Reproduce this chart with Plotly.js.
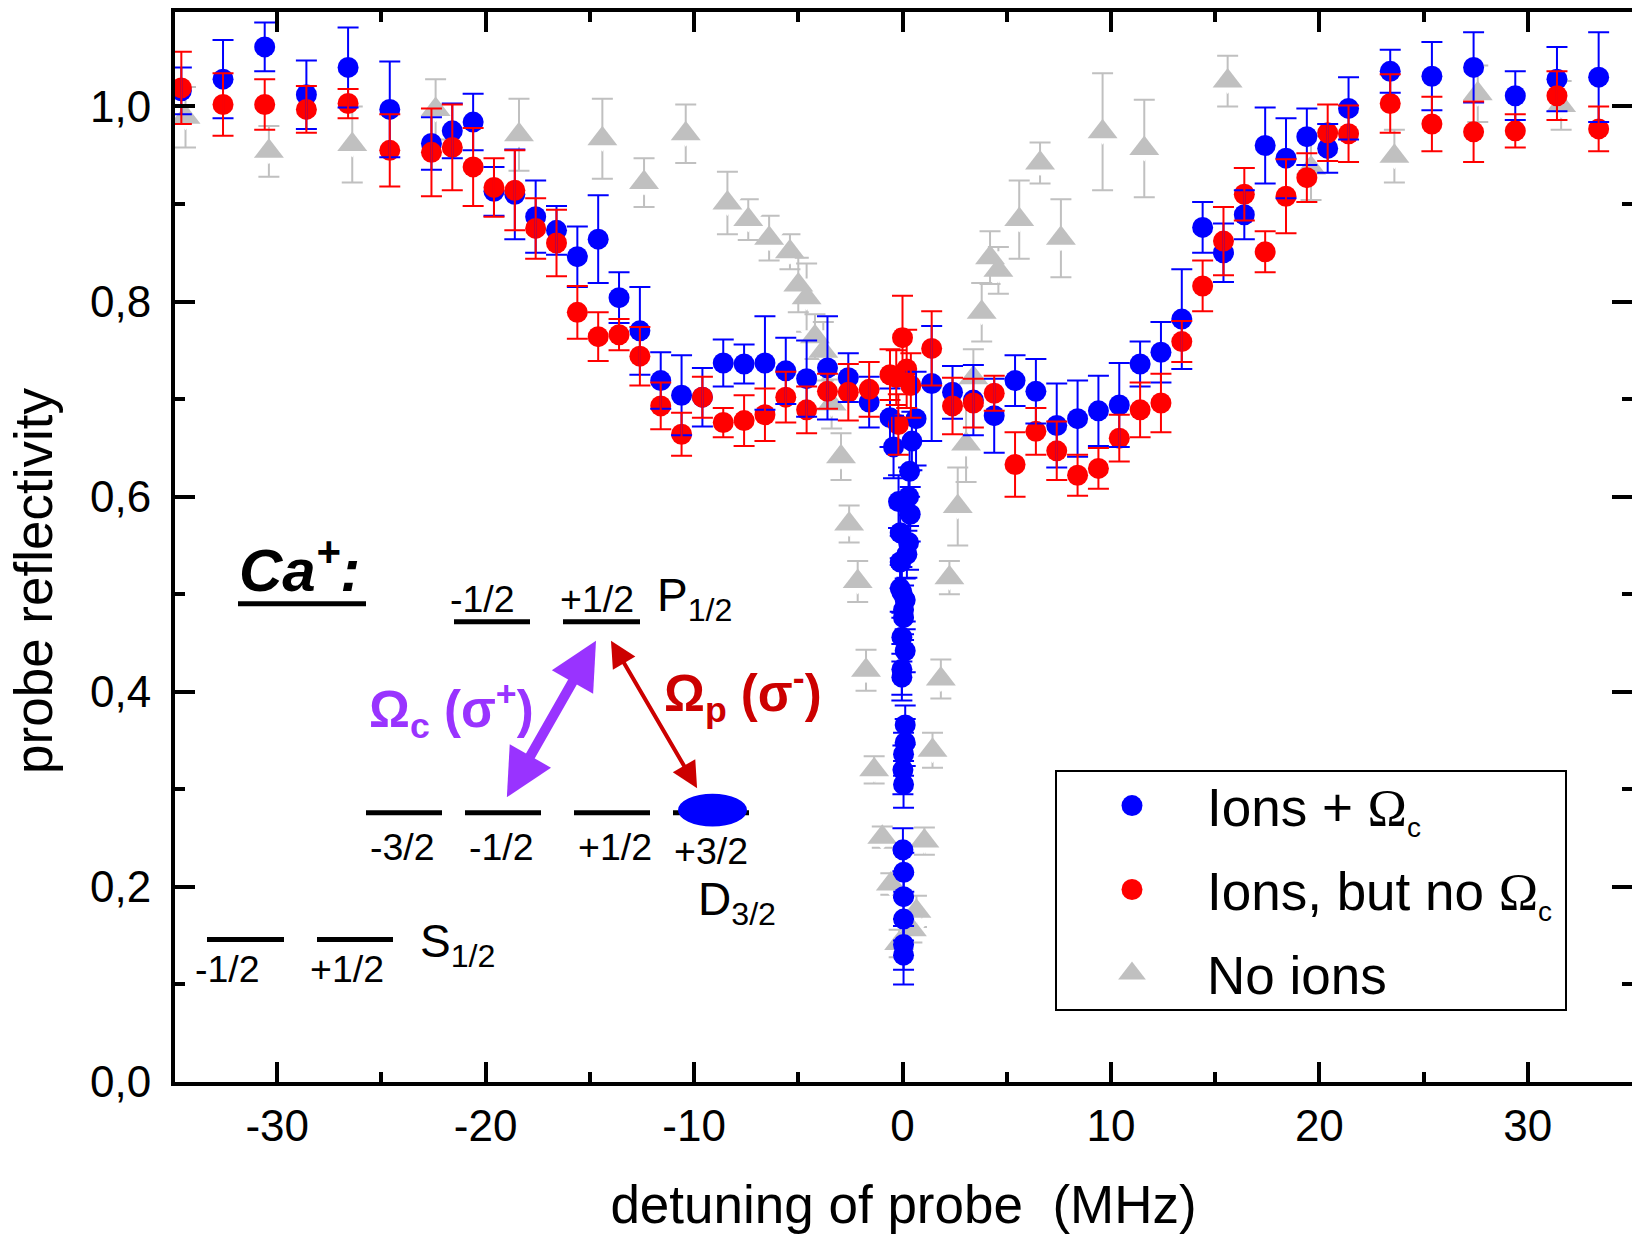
<!DOCTYPE html>
<html><head><meta charset="utf-8">
<script src="https://cdn.plot.ly/plotly-3.0.1.min.js"></script>
<style>html,body{margin:0;padding:0;background:#fff}#chart{width:1632px;height:1234px}</style>
</head><body><div id="chart"></div>
<script>
const blueX=[-34.6,-32.6,-30.6,-28.6,-26.6,-24.6,-22.6,-21.6,-20.6,-19.6,-18.6,-17.6,-16.6,-15.6,-14.6,-13.6,-12.6,-11.6,-10.6,-9.6,-8.6,-7.6,-6.6,-5.6,-4.6,-3.6,-2.6,-1.6,-0.6,0.65,-0.43,0.45,0.34,0.29,-0.19,0.37,-0.11,0.29,0.21,-0.11,-0.11,-0.03,0.13,0.05,0.05,-0.03,0.13,-0.03,-0.03,0.13,0.13,0.05,0.02,0.05,0.02,0.06,0.05,0.05,0.05,0.05,1.4,2.4,3.4,4.4,5.4,6.4,7.4,8.4,9.4,10.4,11.4,12.4,13.4,14.4,15.4,16.4,17.4,18.4,19.4,20.4,21.4,23.4,25.4,27.4,29.4,31.4,33.4];
const blueY=[1.016,1.028,1.061,1.012,1.040,0.997,0.962,0.975,0.984,0.913,0.910,0.887,0.873,0.846,0.864,0.804,0.770,0.719,0.704,0.702,0.737,0.736,0.737,0.729,0.721,0.732,0.722,0.697,0.681,0.680,0.651,0.657,0.626,0.600,0.595,0.582,0.563,0.553,0.541,0.533,0.506,0.502,0.494,0.484,0.476,0.456,0.442,0.423,0.415,0.366,0.348,0.336,0.320,0.305,0.238,0.215,0.190,0.167,0.141,0.130,0.716,0.707,0.699,0.683,0.719,0.708,0.673,0.680,0.688,0.694,0.736,0.748,0.782,0.876,0.850,0.889,0.960,0.947,0.969,0.957,0.998,1.036,1.031,1.040,1.011,1.028,1.030];
const blueErr=[0.024,0.040,0.025,0.035,0.041,0.049,0.027,0.028,0.029,0.025,0.046,0.037,0.025,0.031,0.045,0.026,0.045,0.029,0.041,0.030,0.024,0.020,0.048,0.034,0.039,0.053,0.025,0.026,0.030,0.048,0.032,0.030,0.026,0.030,0.027,0.028,0.026,0.028,0.024,0.027,0.024,0.026,0.022,0.025,0.023,0.025,0.022,0.026,0.024,0.020,0.024,0.022,0.025,0.024,0.022,0.020,0.023,0.022,0.026,0.030,0.059,0.027,0.036,0.038,0.026,0.033,0.043,0.039,0.036,0.043,0.023,0.031,0.051,0.026,0.030,0.025,0.039,0.041,0.029,0.025,0.032,0.022,0.035,0.036,0.025,0.033,0.046];

const redX=[-34.6,-32.6,-30.6,-28.6,-26.6,-24.6,-22.6,-21.6,-20.6,-19.6,-18.6,-17.6,-16.6,-15.6,-14.6,-13.6,-12.6,-11.6,-10.6,-9.6,-8.6,-7.6,-6.6,-5.6,-4.6,-3.6,-2.6,-1.6,-0.6,-0.3,-0.2,0,0.2,0.4,1.4,2.4,3.4,4.4,5.4,6.4,7.4,8.4,9.4,10.4,11.4,12.4,13.4,14.4,15.4,16.4,17.4,18.4,19.4,20.4,21.4,23.4,25.4,27.4,29.4,31.4,33.4];
const redY=[1.019,1.002,1.002,0.997,1.003,0.955,0.953,0.958,0.938,0.917,0.914,0.875,0.860,0.789,0.764,0.766,0.744,0.693,0.664,0.702,0.676,0.678,0.684,0.702,0.689,0.708,0.707,0.710,0.725,0.722,0.674,0.763,0.731,0.714,0.752,0.693,0.696,0.706,0.633,0.667,0.647,0.622,0.629,0.660,0.689,0.696,0.759,0.816,0.862,0.910,0.851,0.908,0.927,0.973,0.972,1.003,0.982,0.974,0.975,1.011,0.977];
const redErr=[0.037,0.032,0.026,0.024,0.015,0.037,0.045,0.044,0.040,0.030,0.041,0.031,0.034,0.027,0.025,0.016,0.030,0.024,0.022,0.021,0.015,0.026,0.027,0.026,0.024,0.018,0.029,0.028,0.026,0.028,0.031,0.043,0.040,0.033,0.038,0.029,0.025,0.018,0.033,0.024,0.030,0.021,0.021,0.024,0.028,0.030,0.021,0.026,0.035,0.027,0.021,0.038,0.025,0.029,0.029,0.030,0.028,0.031,0.017,0.025,0.023];

const grayX=[-34.4,-30.4,-26.4,-22.4,-18.4,-14.4,-12.4,-10.4,-8.4,-7.4,-6.4,-5.4,-5.0,-4.6,-4.2,-3.8,-3.4,-2.95,-2.56,-2.15,-1.75,-1.36,-0.97,-0.56,-0.16,0.45,0.67,1.05,1.44,1.84,2.25,2.65,3.05,3.4,3.8,4.2,4.6,5.6,6.6,7.6,9.6,11.6,15.6,19.6,23.6,27.6,31.6];
const grayY=[0.989,0.954,0.961,0.997,0.971,0.967,0.922,0.972,0.901,0.884,0.865,0.851,0.817,0.804,0.764,0.749,0.695,0.641,0.572,0.513,0.422,0.320,0.251,0.203,0.142,0.156,0.175,0.247,0.340,0.413,0.517,0.590,0.654,0.722,0.789,0.845,0.832,0.884,0.942,0.865,0.974,0.957,1.026,0.937,0.949,1.013,1.001];
const grayErr=[0.031,0.026,0.039,0.031,0.037,0.041,0.025,0.030,0.032,0.021,0.023,0.018,0.028,0.035,0.023,0.030,0.025,0.024,0.019,0.021,0.021,0.014,0.011,0.011,0.014,0.013,0.016,0.014,0.018,0.020,0.017,0.040,0.039,0.029,0.030,0.027,0.024,0.040,0.021,0.040,0.060,0.050,0.026,0.033,0.027,0.029,0.025];

const xTickVals=[-30,-20,-10,0,10,20,30];
const xTickText=['-30','-20','-10','0','10','20','30'];
const yTickVals=[0,0.2,0.4,0.6,0.8,1.0];
const yTickText=['0,0','0,2','0,4','0,6','0,8','1,0'];
const seriesNames=['Ions + <span style="font-family:\'Liberation Serif\'">Ω</span><sub><span style="font-size:28px">c</span></sub>',
 'Ions, but no <span style="font-family:\'Liberation Serif\'">Ω</span><sub><span style="font-size:28px">c</span></sub>',
 'No ions'];

const BLUE='#0000FF',RED='#FF0000',GRAY='#C0C0C0',PURPLE='#9933FF',DKRED='#CC0000';
const L=175,T=12,R=1632,B=1082.5,W=R-L,H=B-T;
const fx=p=>(p-L)/W, fy=p=>(B-p)/H;

const err=(a,c,w)=>({type:'data',array:a,visible:true,color:c,thickness:2,width:w||10.5});
const traces=[
 {x:grayX,y:grayY,mode:'none',error_y:err(grayErr,GRAY),showlegend:false,hoverinfo:'skip',type:'scatter'},
 {x:grayX,y:grayY,mode:'markers',marker:{symbol:'triangle-down',size:26,color:'#fff'},showlegend:false,hoverinfo:'skip',type:'scatter'},
 {x:grayX,y:grayY,mode:'markers',name:seriesNames[2],legendgroup:'c',legendrank:3,marker:{symbol:'triangle-up',size:26,color:GRAY},type:'scatter'},
 {x:blueX,y:blueY,mode:'markers',name:seriesNames[0],legendgroup:'a',legendrank:1,marker:{symbol:'circle',size:21,color:BLUE},type:'scatter'},
 {x:redX,y:redY,mode:'markers',name:seriesNames[1],legendgroup:'b',legendrank:2,marker:{symbol:'circle',size:21,color:RED},type:'scatter'},
 {x:blueX,y:blueY,mode:'none',error_y:err(blueErr,BLUE),showlegend:false,hoverinfo:'skip',type:'scatter'},
 {x:redX,y:redY,mode:'none',error_y:err(redErr,RED),showlegend:false,hoverinfo:'skip',type:'scatter'}
];

const FONT='"Liberation Sans", Arial, sans-serif';
const level=(x0,x1,y)=>({type:'line',xref:'paper',yref:'paper',x0:fx(x0),x1:fx(x1),y0:fy(y),y1:fy(y),line:{color:'#000',width:5}});
const shapes=[
 level(238,366,604),
 level(454,530,622),level(563,640,622),
 level(366,442,813),level(465,541,813),level(574,650,813),level(673,749,813),
 level(207,284,940),level(317,393,940),
 {type:'circle',xref:'paper',yref:'paper',x0:fx(678),x1:fx(747),y0:fy(794),y1:fy(827),fillcolor:BLUE,line:{color:BLUE,width:0}}
];
const label=(t,x,base,size,anchor,extra)=>Object.assign({text:t,xref:'paper',yref:'paper',x:fx(x),y:fy(base+0.212*size+1),xanchor:anchor||'center',yanchor:'bottom',showarrow:false,borderpad:0,font:{family:FONT,size:size,color:'#000'}},extra||{});
const arrow=(x1,y1,x0,y0,c,w,s)=>({text:'',xref:'paper',yref:'paper',x:fx(x1),y:fy(y1),ax:x0-x1,ay:y0-y1,showarrow:true,arrowside:'end+start',arrowhead:2,arrowsize:s,arrowwidth:w,arrowcolor:c,standoff:0,startstandoff:0});
const annotations=[
 label('-1/2',482,612,37.5),label('+1/2',597,612,37.5),
 label('P<sub>1/2</sub>',656,619,46,'left'),
 label('-3/2',402,860,37.5),label('-1/2',501,860,37.5),label('+1/2',615,860,37.5),label('+3/2',711,864,37.5),
 label('D<sub>3/2</sub>',697,923,46,'left'),
 label('-1/2',227,983,37.5),label('+1/2',347,983,37.5),
 label('S<sub>1/2</sub>',419,965,46,'left'),
 Object.assign(label('<b><i>Ca<sup>+</sup>:</i></b>',238,592,60,'left'),{font:{family:FONT,size:60,color:'#000'}}),
 Object.assign(label('<b>Ω<sub>c</sub> (σ<sup>+</sup>)</b>',368,736,51,'left'),{font:{family:FONT,size:51,color:PURPLE}}),
 Object.assign(label('<b>Ω<sub>p</sub> (σ<sup>-</sup>)</b>',663,720,51,'left'),{font:{family:FONT,size:51,color:DKRED}}),
 arrow(596,641,506,799,PURPLE,10,0.95),
 arrow(611,641,698,790,DKRED,4,1.3)
];

const axisCommon={showgrid:false,zeroline:false,showline:true,linecolor:'#000',mirror:'ticks',ticks:'inside',ticklen:20,tickwidth:4,tickcolor:'#000',tickmode:'array',tickfont:{family:FONT,size:44,color:'#000'},automargin:false};
const layout={
 width:1632,height:1234,margin:{l:L,r:0,t:T,b:1234-B,pad:0},paper_bgcolor:'#fff',plot_bgcolor:'#fff',
 font:{family:FONT,color:'#000'},
 xaxis:Object.assign({},axisCommon,{linewidth:3.5,range:[(L-902.4)/20.84,35],tickvals:xTickVals,ticktext:xTickText,ticklabelstandoff:2,
   minor:{tickmode:'linear',dtick:5,tick0:-35,ticks:'inside',ticklen:10,tickwidth:4,tickcolor:'#000'},
   title:{text:'detuning of probe  (MHz)',font:{family:FONT,size:53,color:'#000'},standoff:41}}),
 yaxis:Object.assign({},axisCommon,{linewidth:4,range:[0,(B-T)/976],tickvals:yTickVals,ticktext:yTickText,ticklabelstandoff:11,
   minor:{tickmode:'linear',dtick:0.1,tick0:0,ticks:'inside',ticklen:10,tickwidth:4,tickcolor:'#000'},
   title:{text:'probe reflectivity',font:{family:FONT,size:53,color:'#000'},standoff:14}}),
 legend:{x:fx(1055),y:fy(770),xanchor:'left',yanchor:'top',bgcolor:'#fff',bordercolor:'#000',borderwidth:2,
   font:{family:FONT,size:53,color:'#000'},itemwidth:140,traceorder:'grouped',tracegroupgap:12,itemclick:false,itemdoubleclick:false},
 shapes:shapes,annotations:annotations,showlegend:true,hovermode:false
};
Plotly.newPlot('chart',traces,layout,{displayModeBar:false}).then(gd=>{
  const yt=gd.querySelector('.ytitle');
  if(yt) yt.setAttribute('transform','translate(-7,34) '+(yt.getAttribute('transform')||''));
  gd.querySelectorAll('.legend .legendpoints path').forEach(p=>{
    const tri=(p.getAttribute('d')||'').indexOf('A')<0;
    p.setAttribute('transform',(p.getAttribute('transform')||'')+' scale('+(tri?1.5:1.31)+')');
  });
  const bg=gd.querySelector('.legend .bg');
  if(bg){bg.setAttribute('height','239');bg.setAttribute('width','510');}
  gd.querySelectorAll('.legend .groups').forEach(g=>{ g.setAttribute('transform','translate(0,-7) '+(g.getAttribute('transform')||'')); });
});
</script></body></html>
